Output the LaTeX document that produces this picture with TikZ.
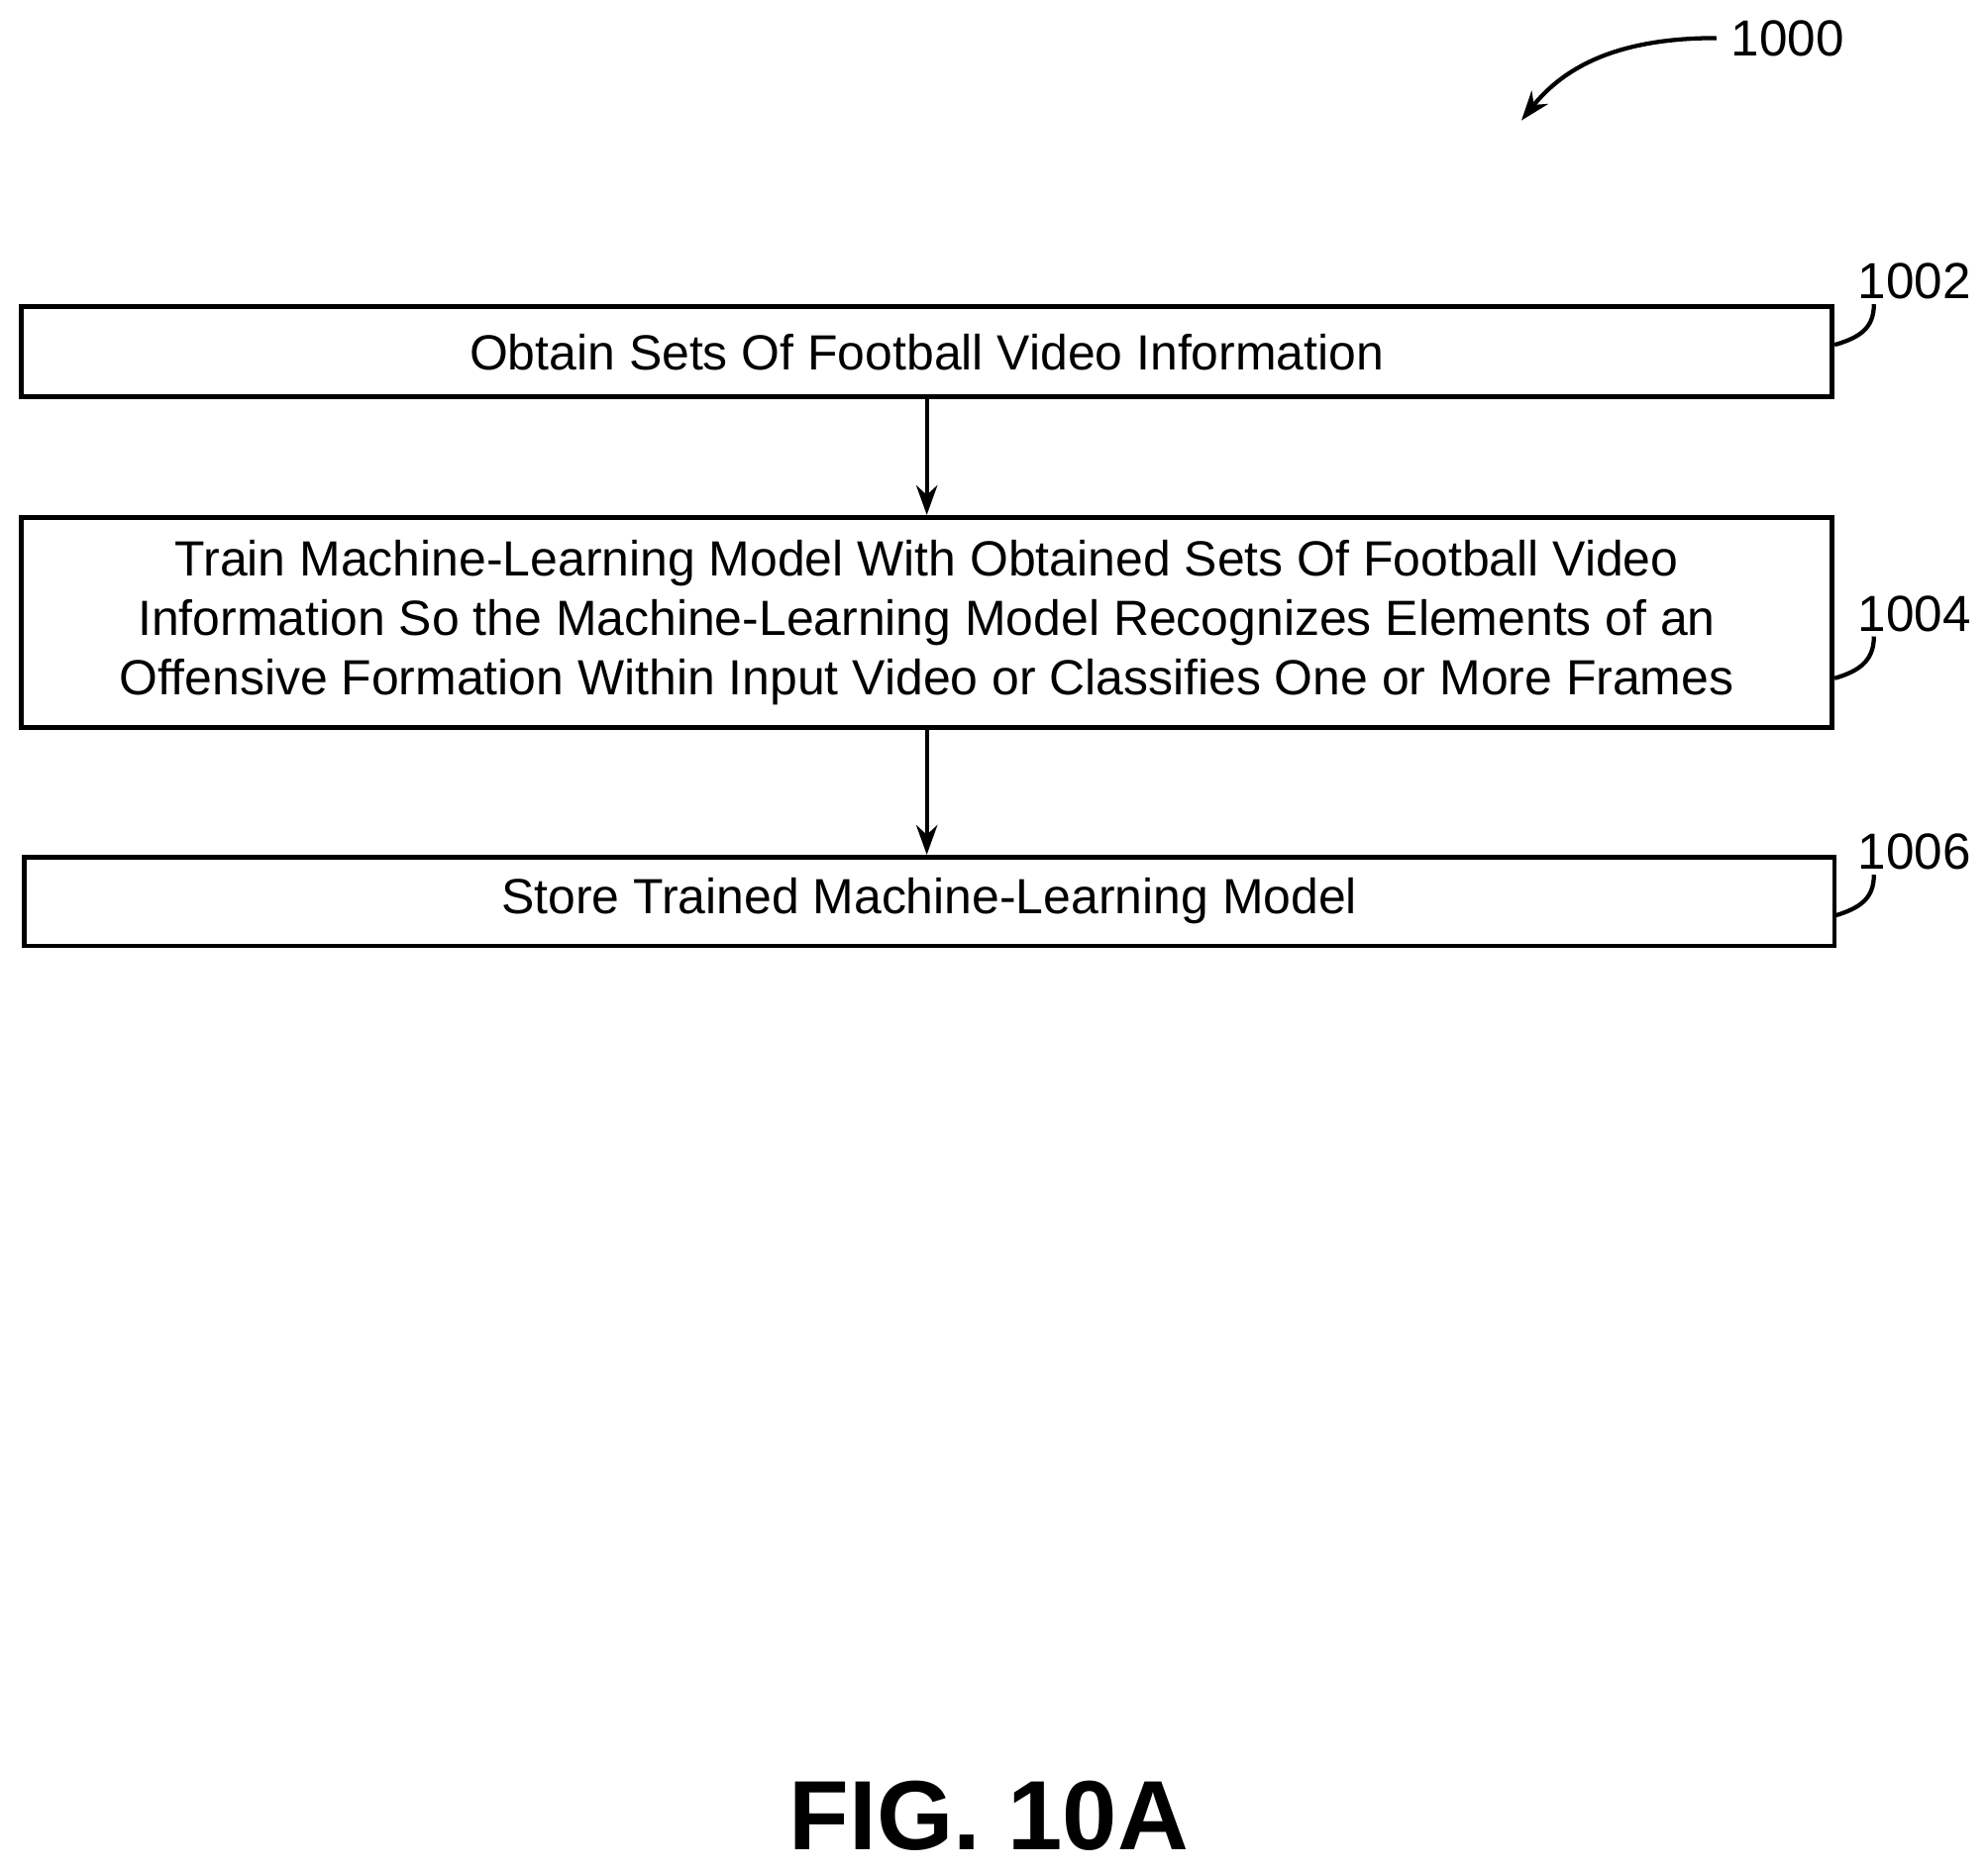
\documentclass[tikz,border=0pt]{standalone}
\usepackage{fontspec}
\setmainfont{Liberation Sans}
\usetikzlibrary{arrows.meta}
\begin{document}
\begin{tikzpicture}[x=0.3pt,y=-0.3pt,
  box/.style={draw,line width=1.1pt,inner sep=0pt,align=center,font=\fontsize{11.7}{14.1}\selectfont},
  lbl/.style={font=\fontsize{12}{14}\selectfont},
  arr/.style={-{Stealth[length=7pt,width=5pt]},line width=1pt},
  lead/.style={line width=1pt}]
\useasboundingbox (0,0) rectangle (1568,1476);
\node[box,minimum width=1428*0.3pt,minimum height=71*0.3pt] (b1) at (731,277.5) {Obtain Sets Of Football Video Information};
\node[box,minimum width=1428*0.3pt,minimum height=166*0.3pt] (b2) at (731,491) {Train Machine-Learning Model With Obtained Sets Of Football Video\\Information So the Machine-Learning Model Recognizes Elements of an\\Offensive Formation Within Input Video or Classifies One or More Frames};
\node[box,minimum width=1428*0.3pt,minimum height=70*0.3pt] (b3) at (733,711) {Store Trained Machine-Learning Model};
\draw[arr] (b1.south -| 731,0) -- (b2.north -| 731,0);
\draw[arr] (b2.south -| 731,0) -- (b3.north -| 731,0);
\node[lbl] (l1) at (1510,222) {1002};
\node[lbl] (l2) at (1510,484) {1004};
\node[lbl] (l3) at (1510,672) {1006};
\node[lbl] (l0) at (1410,30) {1000};
\coordinate (c1) at (1447,272); \coordinate (e1) at (1478,240);
\coordinate (c2) at (1447,535); \coordinate (e2) at (1478,502);
\coordinate (c3) at (1448,722); \coordinate (e3) at (1478,690);
\draw[lead] (c1) .. controls (1468,266) and (1478,258) .. (e1);
\draw[lead] (c2) .. controls (1468,529) and (1478,520) .. (e2);
\draw[lead] (c3) .. controls (1468,716) and (1478,708) .. (e3);
\coordinate (a0) at (1200,95);
\draw[arr] (l0.west) .. controls (1290,30) and (1240,45) .. (a0);
\node[font=\bfseries\fontsize{23.3}{26}\selectfont] (fig) at (780,1432) {FIG. 10A};
\end{tikzpicture}
\end{document}
